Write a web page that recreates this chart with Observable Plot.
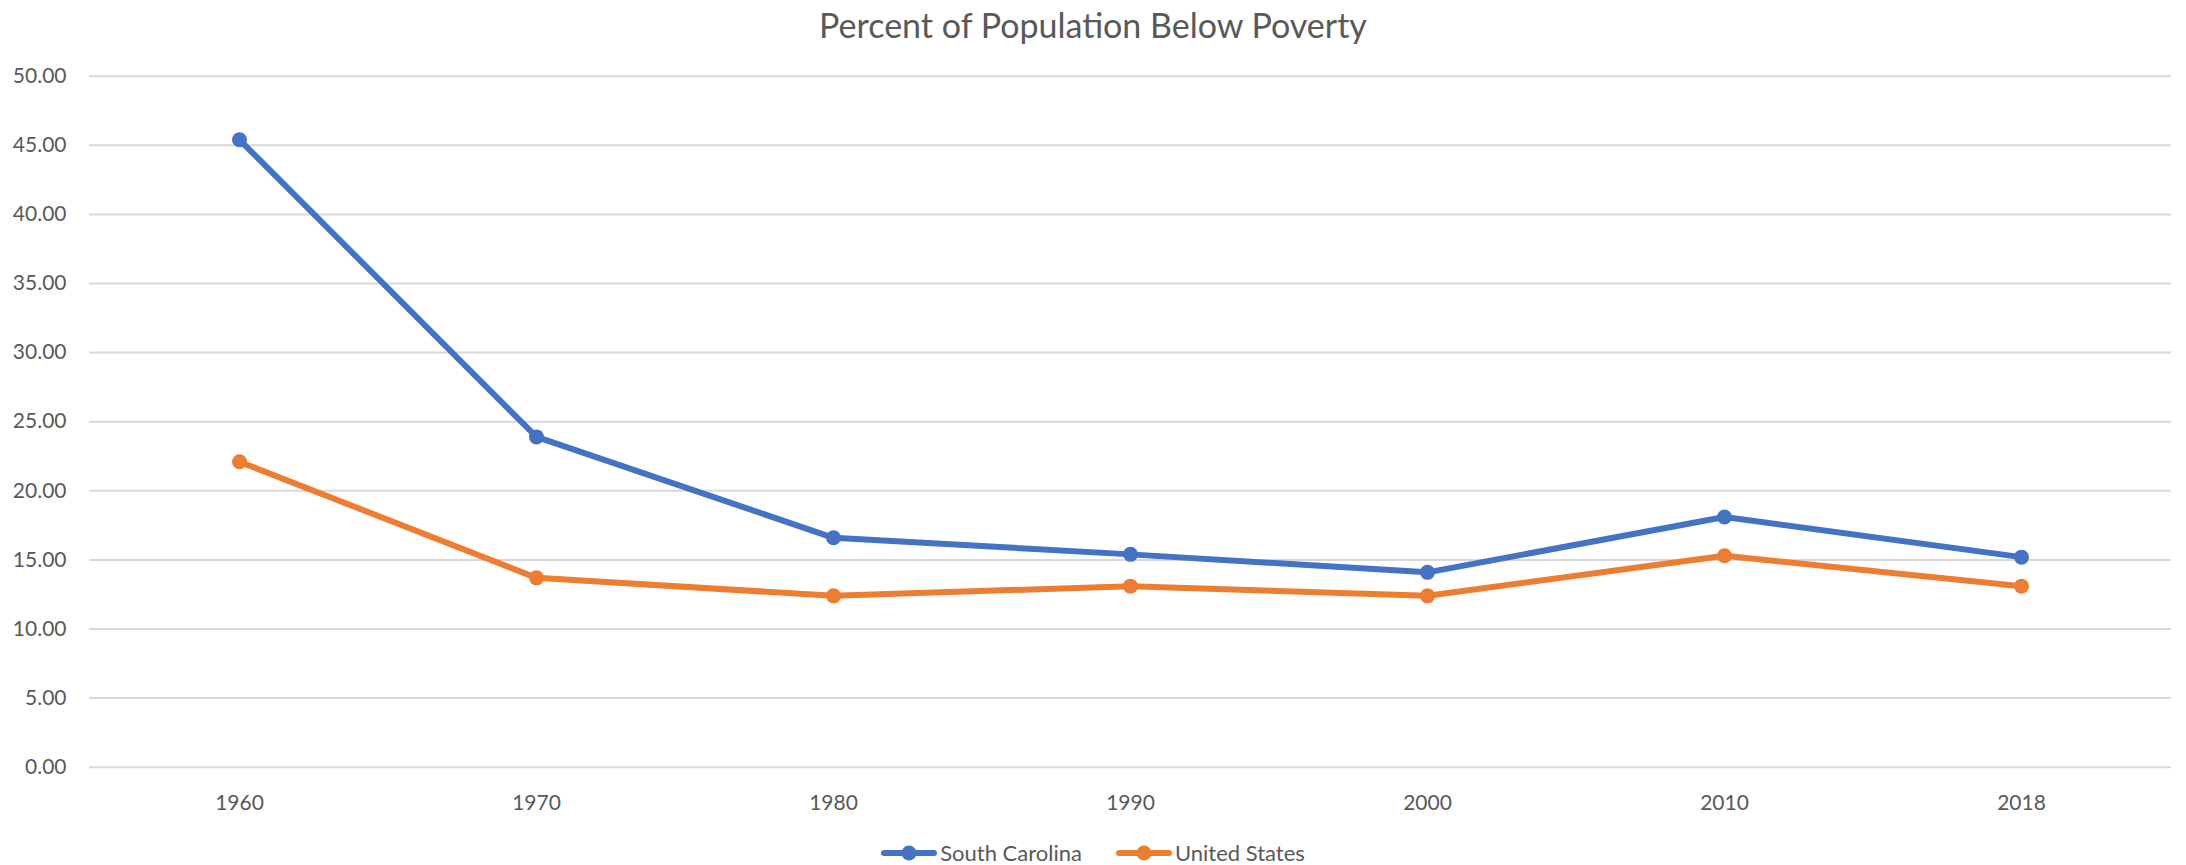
<!DOCTYPE html>
<html>
<head>
<meta charset="utf-8">
<script src="https://cdn.jsdelivr.net/npm/d3@7"></script>
<script src="https://cdn.jsdelivr.net/npm/@observablehq/plot@0.6"></script>
<style>
  html, body { margin: 0; padding: 0; background: #fff; }
  body { width: 2186px; height: 865px; overflow: hidden; font-family: Lato, "Open Sans", sans-serif; color: #595959; }
  #title { height: 50px; line-height: 50px; text-align: center; font-size: 34px; color: #595959; }
  #legend { height: 25px; display: flex; justify-content: center; align-items: center; font-size: 22px; color: #595959; gap: 34px; }
  .item { display: flex; align-items: center; gap: 3px; }
  #chart svg { display: block; }
</style>
</head>
<body>
<div id="title">Percent of Population Below Poverty</div>
<div id="chart"></div>
<div id="legend"></div>
<script>
const years = ["1960", "1970", "1980", "1990", "2000", "2010", "2018"];
const southCarolina = [45.4, 23.9, 16.6, 15.4, 14.1, 18.1, 15.2];
const unitedStates = [22.1, 13.7, 12.4, 13.1, 12.4, 15.3, 13.1];
const seriesNames = ["South Carolina", "United States"];
const seriesColors = ["#4472C4", "#ED7D31"];
const yTicks = [0, 5, 10, 15, 20, 25, 30, 35, 40, 45, 50];

const data = years.flatMap((year, i) => [
  {year, series: seriesNames[0], value: southCarolina[i]},
  {year, series: seriesNames[1], value: unitedStates[i]}
]);

const chart = Plot.plot({
  width: 2186,
  height: 790,
  marginTop: 25.7,
  marginBottom: 73.3,
  marginLeft: 89,
  marginRight: 15,
  style: {fontFamily: "Lato, 'Open Sans', sans-serif", fontSize: "21px", color: "#595959", background: "#fff"},
  x: {type: "point", domain: years, padding: 0.5, label: null},
  y: {domain: [0, 50], label: null},
  color: {domain: seriesNames, range: seriesColors},
  marks: [
    Plot.gridY(yTicks, {stroke: "#d9d9d9", strokeOpacity: 1, strokeWidth: 2}),
    Plot.axisY(yTicks, {tickSize: 0, tickPadding: 23, tickFormat: d => d.toFixed(2), label: null, fill: "#595959"}),
    Plot.axisX({tickSize: 0, tickPadding: 28, label: null, fill: "#595959"}),
    Plot.line(data, {x: "year", y: "value", z: "series", stroke: "series", strokeWidth: 6, strokeLinejoin: "round"}),
    Plot.dot(data, {x: "year", y: "value", fill: "series", r: 7.5})
  ]
});
document.getElementById("chart").appendChild(chart);

const legend = document.getElementById("legend");
seriesNames.forEach((name, i) => {
  const item = document.createElement("div");
  item.className = "item";
  item.innerHTML = `<svg width="56" height="16"><line x1="3" y1="8" x2="53" y2="8" stroke="${seriesColors[i]}" stroke-width="6" stroke-linecap="round"/><circle cx="28" cy="8" r="7.5" fill="${seriesColors[i]}"/></svg><span>${name}</span>`;
  legend.appendChild(item);
});
</script>
</body>
</html>
